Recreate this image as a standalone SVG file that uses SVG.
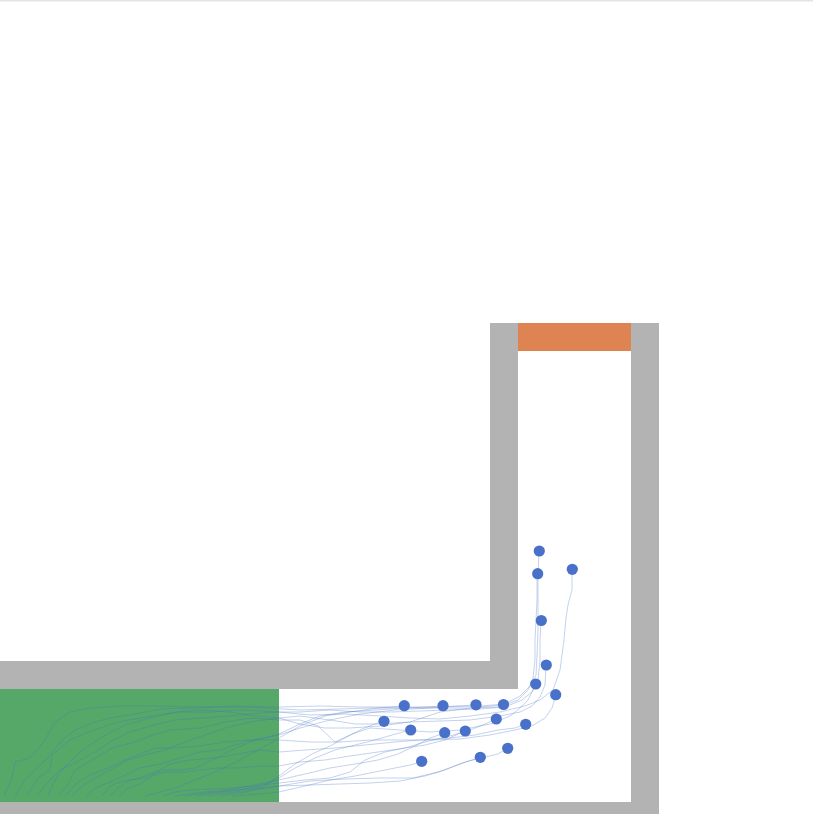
<svg xmlns="http://www.w3.org/2000/svg" width="813" height="814" viewBox="0 0 813 814">
<style>
.wall{fill:#b3b3b3}
.trail{fill:none;stroke:#4472c4;stroke-opacity:0.4;stroke-width:0.8;stroke-linejoin:miter}
.agent{fill:#4a71c9}
</style>
<rect x="0" y="0" width="813" height="814" fill="#ffffff"/>
<rect x="0" y="0" width="813" height="1.5" fill="#e4e4e4"/>
<g id="walls">
<rect class="wall" x="0" y="661" width="490" height="28"/>
<rect class="wall" x="490" y="323" width="28" height="366"/>
<rect class="wall" x="631" y="323" width="28" height="479"/>
<rect class="wall" x="0" y="802" width="659" height="12"/>
</g>
<g id="start-zone"><rect x="0" y="689" width="279" height="113" fill="#55a868"/></g>
<g id="goal-zone"><rect x="518" y="323" width="113" height="28" fill="#dd8452"/></g>
<g id="trails">
<polyline class="trail" points="4,796 12,778 15,762 30,758 45,740 55,722 70,712 90,708 120,706 160,706 200,707 240,706 279,707 320,706 360,707 400,707 440,707 480,706 505,704 520,696 530,686 536,675 537,655 538,630 538,600 538,575 539,551"/>
<polyline class="trail" points="15,796 25,780 35,770 48,758 60,742 75,730 95,722 110,718 135,714 160,709 190,708 230,707 265,708 300,710 340,709 370,708 404,708 440,708 470,708 500,707 518,700 528,690 533,678 535,660 535,640 536,620 537,600 537,574"/>
<polyline class="trail" points="27,796 38,778 50,770 52,755 70,740 88,732 100,728 118,722 140,718 165,714 180,712 210,712 240,710 279,712 310,715 345,714 380,716 410,718 440,719 470,716 500,712 525,706 540,700 553,690 560,670 564,640 566,618 568,605 572,590 572,569"/>
<polyline class="trail" points="37,796 48,782 60,770 75,763 95,752 110,742 130,732 150,726 175,720 200,718 230,716 260,713 279,712 300,712 330,710 360,712 390,712 420,711 450,710 480,709 505,707 522,700 532,692 538,680 540,660 540,640 541,621"/>
<polyline class="trail" points="48,796 55,780 62,770 80,752 100,738 125,725 150,718 175,712 200,710 230,712 255,716 279,718 300,716 330,720 355,724 380,724 410,722 440,721 470,720 500,716 520,712 532,706 540,697 545,685 546,665"/>
<polyline class="trail" points="59,796 68,784 75,770 92,760 112,748 135,742 150,736 170,730 200,728 225,722 250,718 279,720 300,720 318,726 335,742 352,734 370,728 400,730 430,732 460,730 490,724 510,716 520,708 528,700 536,684"/>
<polyline class="trail" points="65,796 78,782 90,775 108,768 125,760 140,754 155,748 175,748 200,746 225,742 250,740 279,740 310,742 340,742 370,740 400,740 430,740 460,739 490,735 515,730 532,726 545,718 552,708 556,695"/>
<polyline class="trail" points="72,796 82,786 95,778 110,770 128,760 145,755 165,750 185,742 205,735 225,728 250,722 279,718 300,724 325,728 350,728 380,726 410,722 440,712 470,708 503,705"/>
<polyline class="trail" points="86,796 96,788 110,782 125,775 140,768 160,764 180,758 200,752 220,750 245,742 265,738 279,735 300,728 330,720 360,714 395,710 430,708 455,706 476,705"/>
<polyline class="trail" points="102,796 110,786 120,782 140,778 160,770 170,764 190,760 215,758 238,754 260,750 279,752 305,750 335,748 365,745 395,742 420,740 450,738 475,735 498,730 515,728 526,724"/>
<polyline class="trail" points="110,796 118,788 130,780 145,778 163,770 180,770 195,768 212,760 232,750 255,740 279,734 300,724 320,716 345,712 375,710 405,708 425,707 443,706"/>
<polyline class="trail" points="120,796 128,788 140,784 152,776 165,772 185,772 200,770 218,768 240,768 260,766 279,766 300,762 325,760 350,756 378,752 405,748 425,742 450,736 470,730 485,724 496,719"/>
<polyline class="trail" points="145,796 160,792 178,787 195,780 215,772 240,760 262,748 279,738 300,726 325,716 350,712 378,708 404,706"/>
<polyline class="trail" points="163,796 175,792 190,790 210,789 232,788 255,786 279,783 305,780 330,778 350,772 365,760 385,752 405,748 425,745 445,740 465,731"/>
<polyline class="trail" points="175,796 188,794 205,792 225,790 250,786 279,780 305,774 330,768 355,764 378,760 398,754 415,746 430,738 445,733"/>
<polyline class="trail" points="185,796 198,794 215,792 235,790 255,788 279,786 310,785 340,784 370,783 400,781 425,776 445,770 465,762 485,757 498,754 508,748"/>
<polyline class="trail" points="197,796 208,794 222,792 240,790 260,786 279,778 295,768 315,758 335,750 355,745 375,740 392,735 410,730"/>
<polyline class="trail" points="208,796 220,794 235,792 250,790 268,788 279,786 310,781 345,779 380,778 413,778 438,772 460,764 481,757"/>
<polyline class="trail" points="220,796 232,794 246,792 262,788 279,776 295,764 312,754 330,746 345,738 360,730 372,725 384,721"/>
<polyline class="trail" points="232,796 245,795 260,794 279,792 305,786 330,780 355,776 375,772 395,768 410,765 421,762"/>
</g>
<g id="agent-1"><circle class="agent" cx="539.3" cy="551" r="5.6"/></g>
<g id="agent-2"><circle class="agent" cx="537.7" cy="573.7" r="5.6"/></g>
<g id="agent-3"><circle class="agent" cx="572.3" cy="569.3" r="5.6"/></g>
<g id="agent-4"><circle class="agent" cx="541.3" cy="620.5" r="5.6"/></g>
<g id="agent-5"><circle class="agent" cx="546.3" cy="665" r="5.6"/></g>
<g id="agent-6"><circle class="agent" cx="535.7" cy="684" r="5.6"/></g>
<g id="agent-7"><circle class="agent" cx="555.7" cy="694.7" r="5.6"/></g>
<g id="agent-8"><circle class="agent" cx="503.5" cy="704.5" r="5.6"/></g>
<g id="agent-9"><circle class="agent" cx="476" cy="704.8" r="5.6"/></g>
<g id="agent-10"><circle class="agent" cx="525.7" cy="724.3" r="5.6"/></g>
<g id="agent-11"><circle class="agent" cx="443" cy="705.7" r="5.6"/></g>
<g id="agent-12"><circle class="agent" cx="496.3" cy="719" r="5.6"/></g>
<g id="agent-13"><circle class="agent" cx="404.3" cy="705.7" r="5.6"/></g>
<g id="agent-14"><circle class="agent" cx="465.3" cy="731" r="5.6"/></g>
<g id="agent-15"><circle class="agent" cx="444.7" cy="732.7" r="5.6"/></g>
<g id="agent-16"><circle class="agent" cx="507.7" cy="748.3" r="5.6"/></g>
<g id="agent-17"><circle class="agent" cx="410.7" cy="730" r="5.6"/></g>
<g id="agent-18"><circle class="agent" cx="480.3" cy="757.3" r="5.6"/></g>
<g id="agent-19"><circle class="agent" cx="384" cy="721.3" r="5.6"/></g>
<g id="agent-20"><circle class="agent" cx="421.7" cy="761.3" r="5.6"/></g>
</svg>
